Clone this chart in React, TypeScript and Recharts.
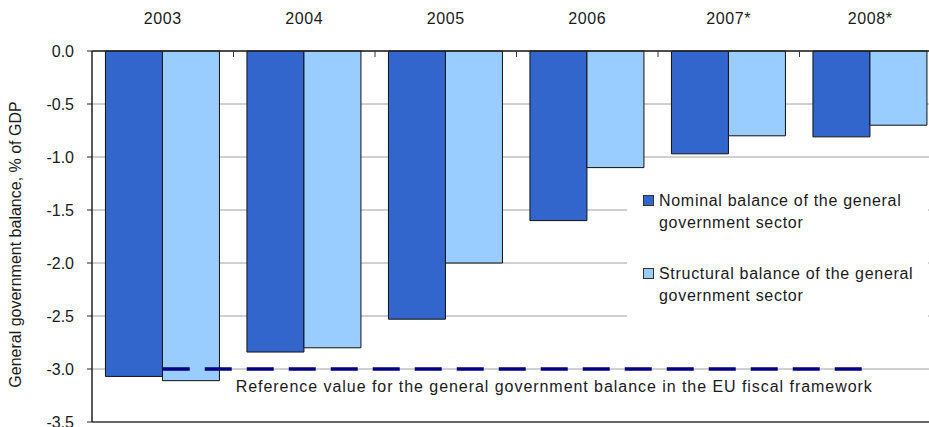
import { BarChart, Bar, XAxis, YAxis, CartesianGrid, ReferenceLine } from "recharts";

// General government balance, % of GDP
const years = ["2003", "2004", "2005", "2006", "2007*", "2008*"];
const nominalBalance = [-3.07, -2.84, -2.53, -1.6, -0.97, -0.81];
const structuralBalance = [-3.11, -2.8, -2.0, -1.1, -0.8, -0.7];
const yTicks = [0, -0.5, -1.0, -1.5, -2.0, -2.5, -3.0, -3.5];
const referenceValue = -3.0;

const data = years.map((year, i) => ({
  year,
  nominal: nominalBalance[i],
  structural: structuralBalance[i],
}));

const FONT = "'Liberation Sans', Arial, sans-serif";
const TEXT = "#1a1a1a";
const NOMINAL_COLOR = "#3366CC";
const STRUCTURAL_COLOR = "#99CCFF";
const YEAR_TICK_MARGIN = 27;

const legendItems = [
  { color: NOMINAL_COLOR, lines: ["Nominal balance of the general", "government sector"] },
  { color: STRUCTURAL_COLOR, lines: ["Structural balance of the general", "government sector"] },
];

// Legend sits on a white panel inside the plot, over the grid lines
const LegendBox = () => (
  <div
    style={{
      position: "absolute",
      left: 627,
      top: 172,
      width: 301,
      height: 150,
      background: "#fff",
      boxSizing: "border-box",
      paddingLeft: 16,
      paddingTop: 18,
      fontFamily: FONT,
      fontSize: 16,
      letterSpacing: 0.7,
      color: TEXT,
      lineHeight: "22px",
    }}
  >
    {legendItems.map((item, i) => (
      <div key={i} style={{ display: "flex", marginBottom: i === 0 ? 29 : 0 }}>
        <span
          style={{
            width: 9,
            height: 9,
            background: item.color,
            border: "1px solid #333",
            marginTop: 5,
            marginRight: 5,
            flex: "none",
          }}
        />
        <div>
          {item.lines.map((l, j) => (
            <div key={j}>{l}</div>
          ))}
        </div>
      </div>
    ))}
  </div>
);

// Year label on top, plus a short downward tick at the right edge of each year group
const YearTick = ({ x, y, payload, index }: any) => {
  const axisY = y + YEAR_TICK_MARGIN;
  const edge = x + (payload.offset ?? 0);
  return (
    <g>
      <text
        x={x}
        y={y}
        textAnchor="middle"
        fontFamily={FONT}
        fontSize={16}
        letterSpacing={0.6}
        fill={TEXT}
      >
        {payload.value}
      </text>
      {index < years.length - 1 && (
        <line x1={edge} x2={edge} y1={axisY} y2={axisY + 6} stroke="#333" strokeWidth={1} />
      )}
    </g>
  );
};

const ReferenceText = ({ viewBox }: any) => (
  <text
    x={viewBox.x + 73}
    y={viewBox.y + 23}
    fontFamily={FONT}
    fontSize={16}
    letterSpacing={0.95}
    fill={TEXT}
  >
    Reference value for the general government balance in the EU fiscal framework
  </text>
);

export default function App() {
  return (
    <div style={{ position: "absolute", left: 0, top: 0, width: 929, height: 427, background: "#fff", overflow: "hidden" }}>
      <BarChart
        width={929}
        height={427}
        data={data}
        margin={{ top: 11, right: -12, bottom: 5, left: 0 }}
        barCategoryGap="9.5%"
        barGap={0}
      >
        <CartesianGrid vertical={false} stroke="#a0a0a0" />
        <YAxis
          domain={[-3.5, 0]}
          ticks={yTicks}
          width={92}
          interval={0}
          axisLine={{ stroke: "#222", strokeWidth: 1.5 }}
          tickLine={{ stroke: "#222" }}
          tickSize={5}
          tickMargin={13}
          tickFormatter={(v: number) => v.toFixed(1)}
          tick={{ fill: TEXT, fontSize: 16, fontFamily: FONT }}
          label={{
            value: "General government balance, % of GDP",
            angle: -90,
            position: "insideLeft",
            dx: 10,
            dy: 8,
            style: { fill: TEXT, fontSize: 16, fontFamily: FONT, textAnchor: "middle" },
          }}
        />
        <ReferenceLine y={-3.5} stroke="#444" strokeWidth={1.5} />
        <Bar
          dataKey="nominal"
          name="Nominal balance of the general government sector"
          fill={NOMINAL_COLOR}
          stroke="#111"
          strokeWidth={1}
          isAnimationActive={false}
        />
        <Bar
          dataKey="structural"
          name="Structural balance of the general government sector"
          fill={STRUCTURAL_COLOR}
          stroke="#111"
          strokeWidth={1}
          isAnimationActive={false}
        />
        <XAxis
          dataKey="year"
          orientation="top"
          height={40}
          axisLine={{ stroke: "#222", strokeWidth: 1.5 }}
          tickLine={false}
          tickSize={0}
          tickMargin={YEAR_TICK_MARGIN}
          interval={0}
          tick={<YearTick />}
        />
        <ReferenceLine
          segment={[
            { x: years[0], y: referenceValue },
            { x: years[years.length - 1], y: referenceValue },
          ]}
          stroke="#000080"
          strokeWidth={3.5}
          strokeDasharray="27 15"
          label={<ReferenceText />}
        />
      </BarChart>
      <LegendBox />
    </div>
  );
}
